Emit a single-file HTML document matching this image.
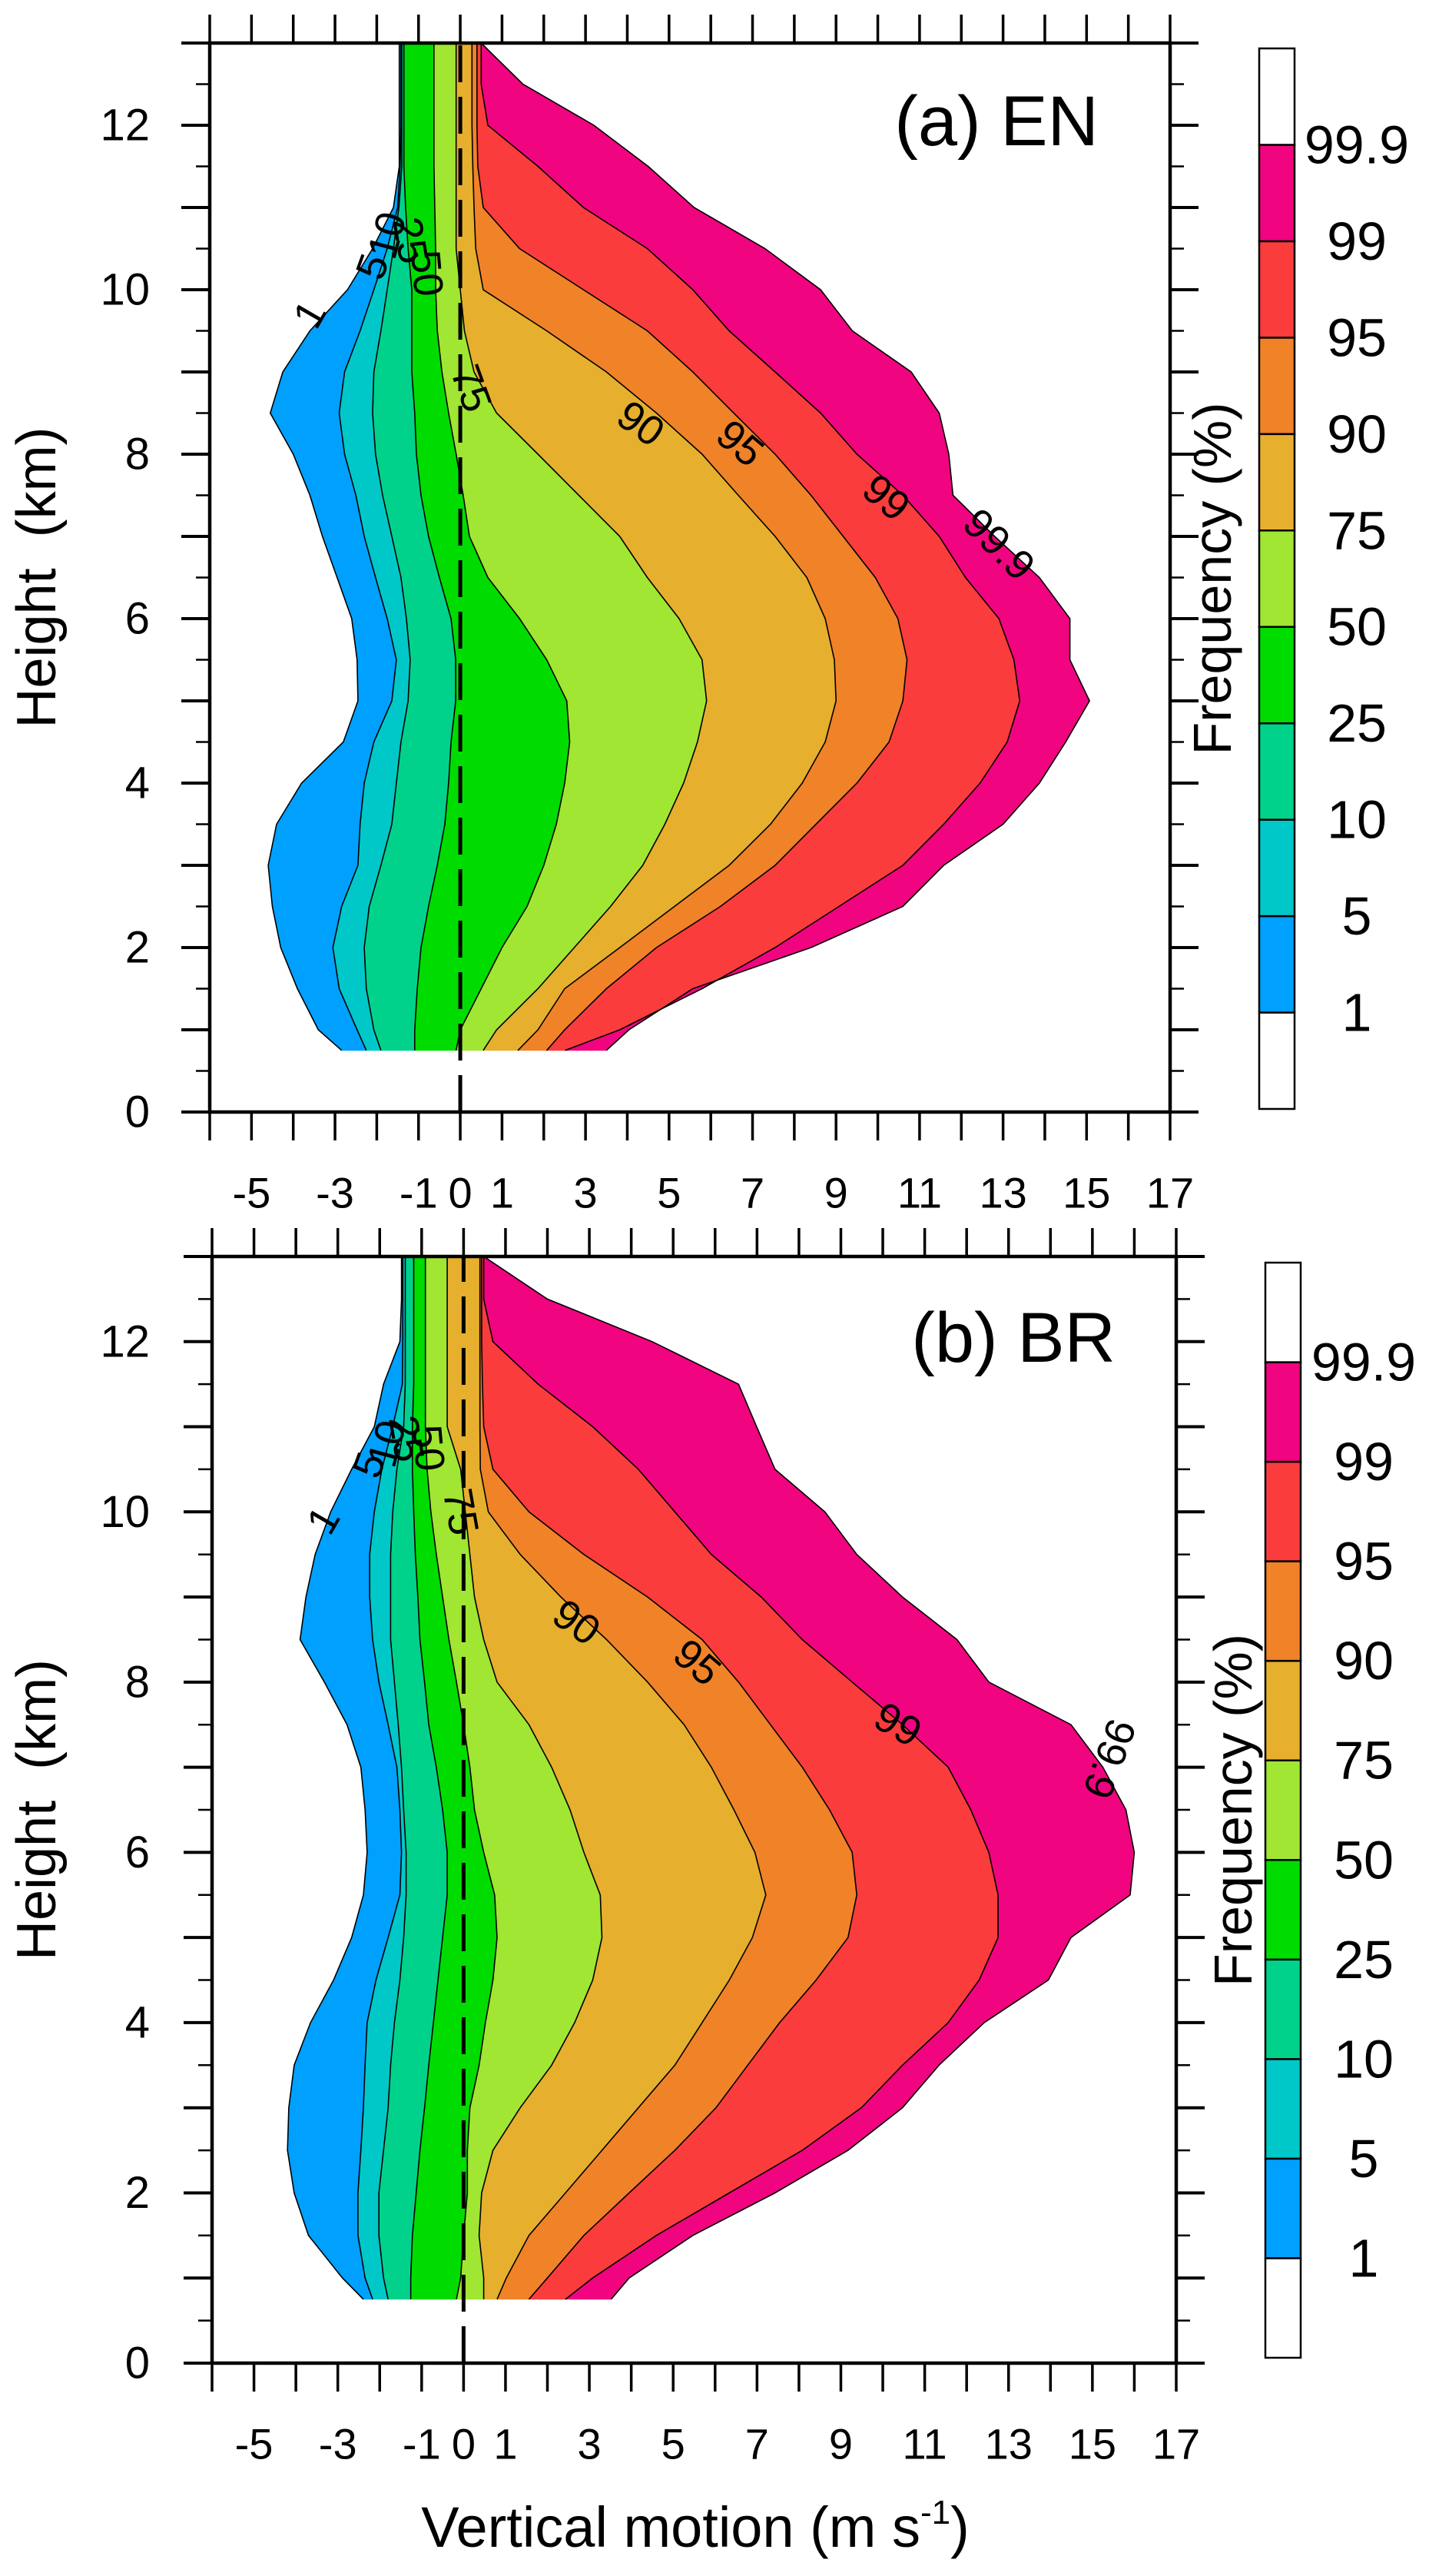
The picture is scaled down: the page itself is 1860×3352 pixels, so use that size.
<!DOCTYPE html>
<html><head><meta charset="utf-8">
<style>
html,body{margin:0;padding:0;background:#fff;}
svg{display:block;font-family:"Liberation Sans",Arial,sans-serif;}
</style></head>
<body>
<svg id="fig" width="1860" height="3352" viewBox="0 0 1860 3352" xmlns="http://www.w3.org/2000/svg"></svg>
<script>
// ---- data ----
const heights = [0.75,1,1.5,2,2.5,3,3.5,4,4.5,5,5.5,6,6.5,7,7.5,8,8.5,9,9.5,10,10.5,11,11.5,12,12.5,13];
const levels = [1,5,10,25,50,75,90,95,99,99.9];
const levelLabels = ["1","5","10","25","50","75","90","95","99","99.9"];
const colors = ["#00A0FF","#00C8C8","#00D28C","#00DC00","#A0E632","#E6AF2D","#F08228","#FA3C3C","#F0047F"];
const xTicks = [-5,-3,-1,0,1,3,5,7,9,11,13,15,17];
const yTicks = [0,2,4,6,8,10,12];

const aP1   = [-2.84,-3.4,-3.9,-4.3,-4.5,-4.6,-4.4,-3.8,-2.8,-2.45,-2.47,-2.6,-2.95,-3.3,-3.6,-4.0,-4.55,-4.25,-3.6,-2.7,-2.1,-1.6,-1.46,-1.46,-1.46,-1.46];
const aP5   = [-2.25,-2.47,-2.9,-3.05,-2.84,-2.45,-2.4,-2.3,-2.07,-1.64,-1.53,-1.75,-2.03,-2.3,-2.5,-2.77,-2.9,-2.77,-2.4,-2.07,-1.75,-1.5,-1.44,-1.42,-1.42,-1.42];
const aP10  = [-1.9,-2.07,-2.25,-2.3,-2.18,-1.9,-1.64,-1.53,-1.42,-1.25,-1.2,-1.29,-1.42,-1.64,-1.86,-2.03,-2.1,-2.07,-1.9,-1.75,-1.6,-1.47,-1.4,-1.4,-1.4,-1.4];
const aP25  = [-1.09,-1.09,-1.03,-0.94,-0.76,-0.55,-0.37,-0.28,-0.22,-0.11,-0.11,-0.22,-0.5,-0.76,-0.94,-1.05,-1.09,-1.16,-1.16,-1.16,-1.25,-1.31,-1.35,-1.35,-1.35,-1.35];
const aP50  = [-0.1,0.0,0.5,1.0,1.6,2.0,2.3,2.5,2.62,2.55,2.07,1.42,0.66,0.22,0.07,-0.1,-0.28,-0.44,-0.55,-0.59,-0.59,-0.61,-0.63,-0.63,-0.63,-0.63];
const aP75  = [0.55,0.87,1.86,2.73,3.6,4.37,4.9,5.35,5.68,5.9,5.79,5.24,4.48,3.82,2.84,1.86,0.87,0.33,0.1,0.0,-0.1,-0.1,-0.1,-0.1,-0.1,-0.1];
const aP90  = [1.38,1.86,2.5,3.82,5.13,6.44,7.43,8.19,8.74,9.0,8.96,8.74,8.3,7.54,6.66,5.79,4.7,3.5,2.07,0.55,0.37,0.33,0.3,0.28,0.28,0.28];
const aP95  = [2.07,2.5,3.5,4.7,6.23,7.54,8.52,9.5,10.27,10.6,10.7,10.48,9.94,9.17,8.4,7.54,6.55,5.57,4.48,2.95,1.42,0.55,0.42,0.4,0.4,0.4];
const aP99  = [2.51,3.82,5.79,7.54,9.07,10.6,11.58,12.45,13.1,13.4,13.26,12.9,12.1,11.47,10.6,9.5,8.63,7.54,6.44,5.57,4.48,2.95,1.86,0.66,0.5,0.5];
const aP999 = [3.5,4.04,5.57,8.4,10.6,11.58,13.0,13.87,14.5,15.07,14.6,14.6,13.87,12.8,11.8,11.7,11.47,10.8,9.39,8.63,7.3,5.6,4.5,3.2,1.5,0.5];

const bP1   = [-2.39,-2.89,-3.7,-4.04,-4.2,-4.17,-4.04,-3.65,-3.1,-2.67,-2.39,-2.3,-2.35,-2.45,-2.78,-3.32,-3.9,-3.76,-3.54,-3.17,-2.67,-2.13,-1.91,-1.52,-1.48,-1.48];
const bP5   = [-2.17,-2.35,-2.52,-2.52,-2.45,-2.39,-2.35,-2.3,-2.09,-1.8,-1.52,-1.48,-1.52,-1.59,-1.8,-2.02,-2.17,-2.24,-2.24,-2.13,-1.95,-1.69,-1.46,-1.45,-1.45,-1.45];
const bP10  = [-1.8,-1.91,-2.02,-2.02,-1.91,-1.8,-1.74,-1.65,-1.52,-1.43,-1.37,-1.37,-1.43,-1.48,-1.56,-1.65,-1.74,-1.74,-1.74,-1.69,-1.59,-1.43,-1.39,-1.39,-1.39,-1.39];
const bP25  = [-1.26,-1.26,-1.22,-1.13,-1.04,-0.93,-0.83,-0.72,-0.61,-0.5,-0.39,-0.39,-0.5,-0.65,-0.83,-0.93,-1.04,-1.09,-1.15,-1.19,-1.22,-1.22,-1.19,-1.19,-1.19,-1.19];
const bP50  = [-0.17,-0.07,0.0,0.09,0.09,0.15,0.37,0.52,0.7,0.8,0.74,0.48,0.26,0.15,0.0,-0.17,-0.35,-0.5,-0.65,-0.78,-0.87,-0.91,-0.91,-0.91,-0.91,-0.91];
const bP75  = [0.48,0.48,0.37,0.43,0.7,1.35,2.1,2.65,3.08,3.3,3.26,2.87,2.54,2.1,1.56,0.8,0.48,0.26,0.15,0.04,-0.07,-0.39,-0.39,-0.39,-0.39,-0.39];
const bP90  = [0.8,1.02,1.56,2.43,3.3,4.17,5.04,5.69,6.34,6.89,7.21,6.95,6.45,5.91,5.26,4.39,3.41,2.32,1.35,0.59,0.4,0.39,0.39,0.39,0.39,0.39];
const bP95  = [1.56,2.0,2.87,3.95,5.04,6.02,6.78,7.54,8.41,9.17,9.38,9.27,8.73,8.08,7.32,6.56,5.69,4.39,2.87,1.56,0.7,0.48,0.45,0.43,0.43,0.43];
const bP99  = [2.43,3.08,4.6,6.34,8.08,9.49,10.47,11.56,12.3,12.75,12.75,12.53,12.1,11.56,10.47,9.27,8.08,7.1,5.91,5.04,4.17,3.08,1.78,0.7,0.48,0.48];
const bP999 = [3.52,3.95,5.47,7.43,9.17,10.47,11.34,12.42,13.95,14.49,15.9,16.0,15.8,15.25,14.49,12.53,11.77,10.47,9.38,8.62,7.43,6.99,6.56,4.5,2.0,0.48];

// contour label positions (data coords: x m/s, h km) & rotation
const aLabX = [-3.6,-2.1,-1.75,-1.2,-0.8,0.26,4.32,6.7,10.2,12.9];
const aLabH = [9.7,10.28,10.66,10.6,10.2,8.8,8.37,8.13,7.47,6.9];
const aLabR = [-60,-70,-75,80,85,70,35,40,40,45];
const bLabX = [-3.34,-2.25,-1.83,-1.37,-0.84,-0.07,2.69,5.57,10.36,15.4];
const bLabH = [9.9,10.55,10.8,10.86,10.75,10.0,8.7,8.23,7.5,7.1];
const bLabR = [-60,-70,-75,80,85,80,35,40,30,110];

const NS = "http://www.w3.org/2000/svg";
const svg = document.getElementById("fig");
function el(tag, attrs, parent){
  const e = document.createElementNS(NS, tag);
  for (const k in attrs) e.setAttribute(k, attrs[k]);
  (parent||svg).appendChild(e);
  return e;
}

function panel(cfg){
  const g = el("g", {});
  
  
  const X = v => cfg.x0 + (v + 6) / 23 * (cfg.x1 - cfg.x0);
  const Y = h => cfg.y1 - h / 13 * (cfg.y1 - cfg.y0);

  for (let i = 0; i < cfg.p.length - 1; i++) {
    const lo = cfg.p[i], hi = cfg.p[i+1];
    let pts = [];
    for (let k = 0; k < heights.length; k++) pts.push(X(lo[k]).toFixed(1)+","+Y(heights[k]).toFixed(1));
    for (let k = heights.length-1; k >= 0; k--) pts.push(X(hi[k]).toFixed(1)+","+Y(heights[k]).toFixed(1));
    const poly = el("polygon", {points: pts.join(" "), fill: colors[i], stroke: colors[i], "stroke-width": 0.8}, g);
    
    
  }
  for (let i = 0; i < cfg.p.length; i++) {
    let pts = [];
    for (let k = 0; k < heights.length; k++) pts.push(X(cfg.p[i][k]).toFixed(1)+","+Y(heights[k]).toFixed(1));
    const pl = el("polyline", {points: pts.join(" "), fill: "none", stroke: "#000", "stroke-width": 1.6}, g);
    
    
  }
  for (let i = 0; i < levels.length; i++) {
    const tx = X(cfg.lx[i]), ty = Y(cfg.lh[i]);
    const t = el("text", {x: tx, y: ty, "font-size": 54, "text-anchor": "middle", "dominant-baseline": "central", transform: "rotate(" + cfg.lr[i] + " " + tx + " " + ty + ")"}, g);
    t.textContent = levelLabels[i];
    
    
  }
  const dl = el("line", {x1: X(0), x2: X(0), y1: cfg.y1, y2: cfg.y0, stroke: "#000", "stroke-width": 5, "stroke-dasharray": "48 19"}, g);
  
  

  const fr = el("rect", {x: cfg.x0, y: cfg.y0, width: cfg.x1 - cfg.x0, height: cfg.y1 - cfg.y0, fill: "none", stroke: "#000", "stroke-width": 4.5}, g);
  
  

  for (let v = -6; v <= 17; v++) {
    el("line", {x1: X(v), x2: X(v), y1: cfg.y1, y2: cfg.y1 + 37, stroke: "#000", "stroke-width": 3.5}, g);
    el("line", {x1: X(v), x2: X(v), y1: cfg.y0, y2: cfg.y0 - 37, stroke: "#000", "stroke-width": 3.5}, g);
  }
  for (const v of xTicks) {
    const t = el("text", {x: X(v), y: cfg.y1 + 105, "font-size": 56, "text-anchor": "middle", "dominant-baseline": "central"}, g);
    t.textContent = String(v);
    
    
  }
  for (let h = 0; h <= 13; h += 0.5) {
    const major = Number.isInteger(h);
    const len = major ? 37 : 18, w = major ? 4 : 2.5;
    el("line", {x1: cfg.x0, x2: cfg.x0 - len, y1: Y(h), y2: Y(h), stroke: "#000", "stroke-width": w}, g);
    el("line", {x1: cfg.x1, x2: cfg.x1 + len, y1: Y(h), y2: Y(h), stroke: "#000", "stroke-width": w}, g);
  }
  for (const h of yTicks) {
    const t = el("text", {x: 195, y: Y(h), "font-size": 58, "text-anchor": "end", "dominant-baseline": "central"}, g);
    t.textContent = String(h);
    
    
  }
  const cy = (cfg.y0 + cfg.y1) / 2;
  const yt = el("text", {x: 48, y: cy, "font-size": 72, "text-anchor": "middle", "dominant-baseline": "central", transform: "rotate(-90 48 " + cy + ")"}, g);
  yt.textContent = "Height\u00A0\u00A0(km)";
  
  
  const pt = el("text", {x: cfg.tx, y: cfg.ty, "font-size": 92, "text-anchor": "end"}, g);
  pt.textContent = cfg.title;
  
  

  const cb = el("g", {}, g);
  
  
  const boxH = (cfg.cb1 - cfg.cb0) / 11;
  const cbColors = ["#FFFFFF"].concat(colors).concat(["#FFFFFF"]);
  for (let i = 0; i < 11; i++) {
    const yb = cfg.cb1 - (i + 1) * boxH;
    const r = el("rect", {x: cfg.cx0, y: yb, width: cfg.cx1 - cfg.cx0, height: boxH, fill: cbColors[i], stroke: "#000", "stroke-width": 2.5}, cb);
    
    
  }
  for (let i = 0; i < levels.length; i++) {
    const t = el("text", {x: cfg.clx, y: cfg.cb1 - (i + 1) * boxH, "font-size": 70, "text-anchor": "middle", "dominant-baseline": "central"}, cb);
    t.textContent = levelLabels[i];
    
    
  }
  const fy = (cfg.cb0 + cfg.cb1) / 2;
  const ft = el("text", {x: cfg.fx, y: fy, "font-size": 70, "text-anchor": "middle", "dominant-baseline": "central", transform: "rotate(-90 " + cfg.fx + " " + fy + ")"}, cb);
  ft.textContent = "Frequency (%)";
  
  
}

panel({name: "panel-a-en", title: "(a) EN", x0: 273, x1: 1523, y0: 56, y1: 1447, tx: 1430, ty: 189,
  p: [aP1,aP5,aP10,aP25,aP50,aP75,aP90,aP95,aP99,aP999], lx: aLabX, lh: aLabH, lr: aLabR,
  cx0: 1639, cx1: 1685, cb0: 63, cb1: 1443, clx: 1766, fx: 1578});
panel({name: "panel-b-br", title: "(b) BR", x0: 276, x1: 1531, y0: 1635, y1: 3075, tx: 1452, ty: 1772,
  p: [bP1,bP5,bP10,bP25,bP50,bP75,bP90,bP95,bP99,bP999], lx: bLabX, lh: bLabH, lr: bLabR,
  cx0: 1647, cx1: 1693, cb0: 1643, cb1: 3068, clx: 1775, fx: 1605});

const xt = el("text", {x: 905, y: 3314, "font-size": 74, "text-anchor": "middle"});


xt.innerHTML = 'Vertical motion (m s<tspan dy="-30" font-size="44">-1</tspan><tspan dy="30">)</tspan>';
</script>
</body></html>
